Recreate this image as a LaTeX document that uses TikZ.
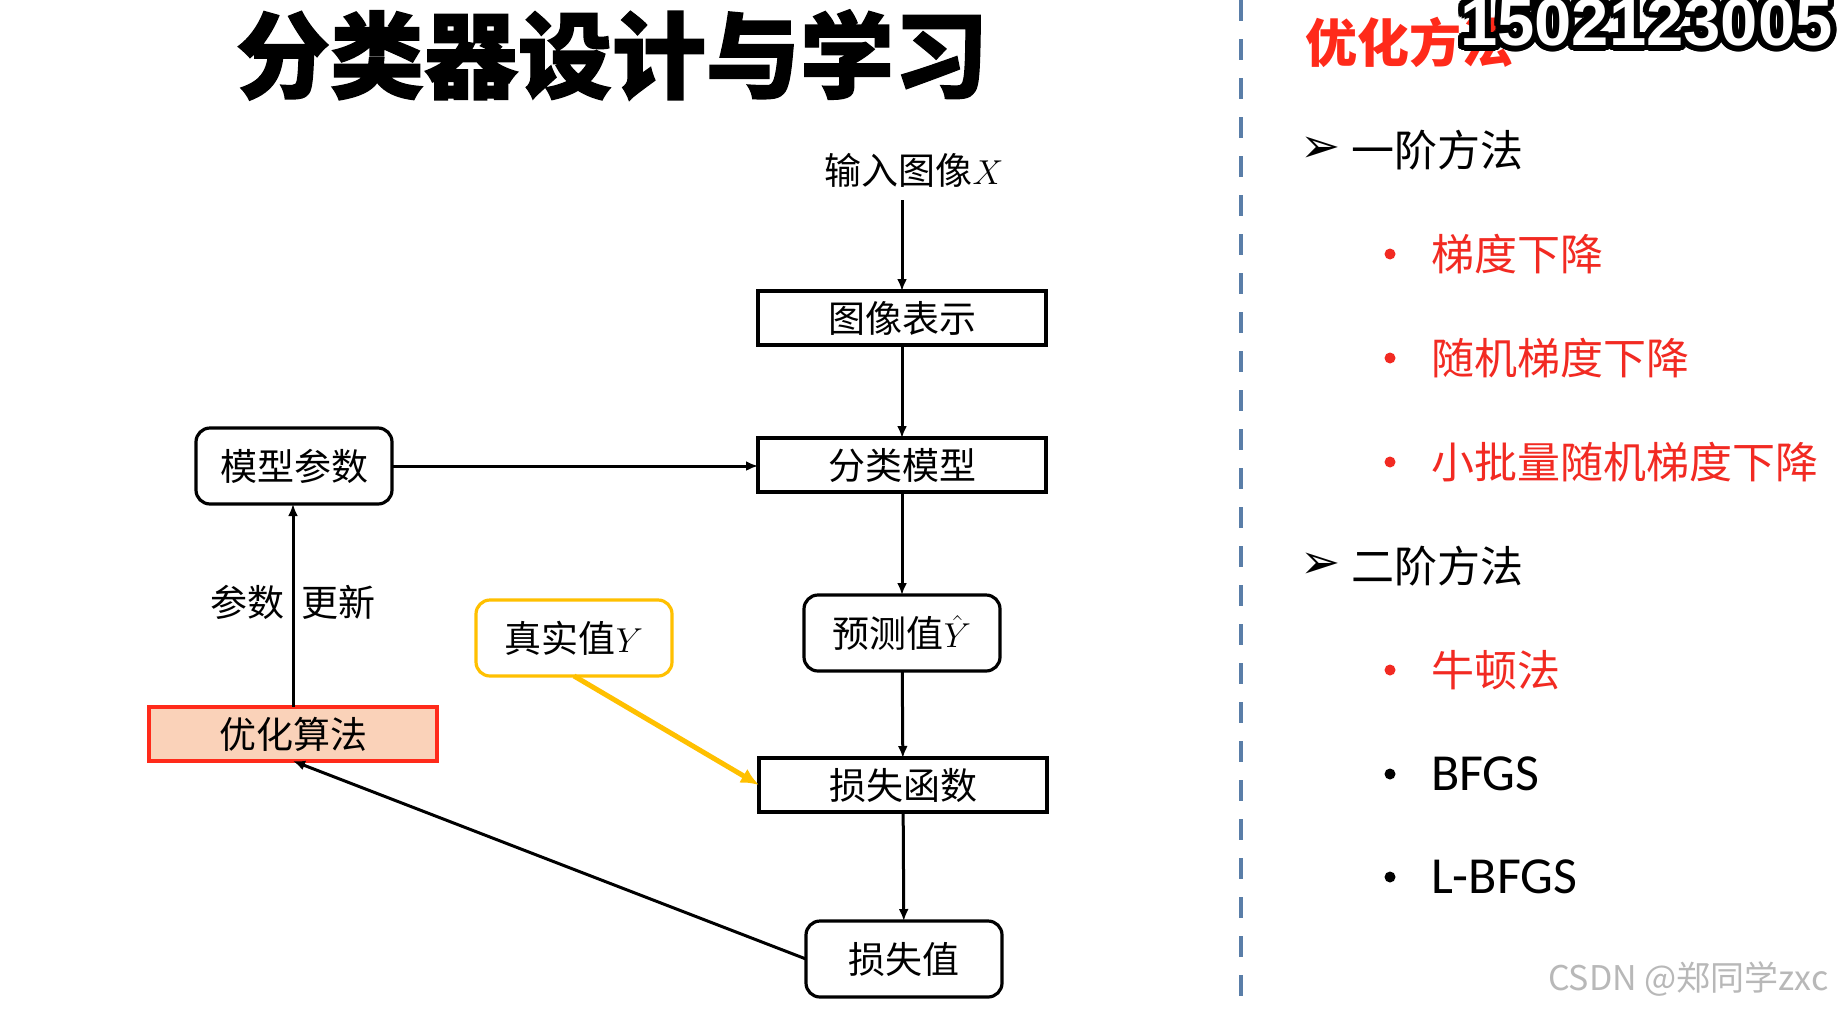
\documentclass[tikz,border=0pt]{standalone}
\usepackage{fontspec}
\setmainfont{Noto Sans CJK SC}
\newfontfamily\cjk{Noto Sans CJK SC}
\newfontfamily\titlefont[FakeBold=1.5]{Noto Sans CJK SC}
\newfontfamily\latinsans{Carlito}
\newfontfamily\digitfont{Liberation Sans}
\newfontfamily\symfont{DejaVu Sans}
\usetikzlibrary{arrows.meta}
\definecolor{optred}{HTML}{FF2A1A}
\definecolor{peach}{HTML}{FAD2B9}
\definecolor{gold}{HTML}{FFC000}
\definecolor{dashblue}{HTML}{5A7EA8}
\definecolor{itemred}{HTML}{F22A22}
\tikzset{
  every node/.style={inner sep=0pt, outer sep=0pt},
  lbl/.style={font=\fontsize{18.5}{20}\selectfont},
  sqbox/.style={draw, line width=1.6pt, minimum width=144pt, minimum height=27pt, lbl},
  rbox/.style={draw, line width=1.6pt, rounded corners=7pt, minimum width=98pt, minimum height=38pt, lbl},
  flow/.style={line width=1.5pt, -{Latex[length=6pt,width=5pt]}},
  itemtxt/.style={anchor=west, font=\fontsize{21.5}{24}\selectfont},
  dotred/.style={circle, fill=itemred, minimum size=5.5pt},
  dotblk/.style={circle, fill=black, minimum size=5.5pt},
  bul/.style={anchor=center, font=\fontsize{24}{26}\symfont},
}
\begin{document}
\begin{tikzpicture}[x=0.5pt, y=-0.5pt]
\useasboundingbox (0,0) rectangle (1839,1012);
\fill[white] (0,0) rectangle (1839,1012);

% title
\node[font=\fontsize{47}{50}\titlefont\bfseries] (title) at (612,55) {分类器设计与学习};

% flow diagram
\node[lbl] (inp) at (914,170) {输入图像$X$};
\node[sqbox] (rep) at (902,318) {图像表示};
\node[sqbox] (cls) at (902,465) {分类模型};
\node[rbox] (par) at (294,466) {模型参数};
\node[rbox] (pred) at (902,633) {预测值$\hat{Y}$};
\node[sqbox] (loss) at (903,785) {损失函数};
\node[rbox] (lv) at (904,959) {损失值};
\node[sqbox, draw=optred, fill=peach] (opt) at (293,734) {优化算法};
\node[rbox, draw=gold] (truth) at (574,638) {真实值$Y$};
\node[lbl] (upd1) at (247,602) {参数};
\node[lbl] (upd2) at (338,602) {更新};
\coordinate (inpstart) at (902,200);

\draw[flow] (inpstart) -- (rep.north);
\draw[flow] (rep) -- (cls);
\draw[flow] (par.east) -- (par.east -| cls.west);
\draw[flow] (cls) -- (pred);
\draw[flow] (pred) -- (loss);
\draw[flow] (loss) -- (lv);
\draw[flow] (lv.west) -- (opt.south);
\draw[flow] (opt.north) -- (opt.north |- par.south);
\draw[line width=2.5pt, draw=gold, -{Latex[length=9pt,width=8pt]}] (truth.south) -- (loss.west);

% divider
\draw[dashblue, line width=2pt, dash pattern=on 10.5pt off 9pt] (1241,0) -- (1241,1012);

% right panel
\node[anchor=west, text=optred, font=\fontsize{26}{28}\selectfont\bfseries] (head) at (1305,42) {优化方法};

\foreach \a in {0,15,...,345}{
  \node[anchor=west, font=\fontsize{33.5}{36}\digitfont\bfseries, text=black] at ([shift={(\a:6)}]1460,22) {1502123005};
}
\node[anchor=west, font=\fontsize{33.5}{36}\digitfont\bfseries, text=white] (wm) at (1460,22) {1502123005};

\node[bul] (a1) at (1321,150) {➢};
\node[itemtxt] (t1) at (1351,150) {一阶方法};
\node[dotred] (d1) at (1390,254) {};
\node[itemtxt, text=itemred] (t2) at (1431,254) {梯度下降};
\node[dotred] (d2) at (1390,358) {};
\node[itemtxt, text=itemred] (t3) at (1431,358) {随机梯度下降};
\node[dotred] (d3) at (1390,462) {};
\node[itemtxt, text=itemred] (t4) at (1431,462) {小批量随机梯度下降};
\node[bul] (a2) at (1321,566) {➢};
\node[itemtxt] (t5) at (1351,566) {二阶方法};
\node[dotred] (d4) at (1390,670) {};
\node[itemtxt, text=itemred] (t6) at (1431,670) {牛顿法};
\node[dotblk] (d5) at (1390,774) {};
\node[itemtxt, font=\fontsize{26}{28}\latinsans] (t7) at (1431,774) {BFGS};
\node[dotblk] (d6) at (1390,877) {};
\node[itemtxt, font=\fontsize{26}{28}\latinsans] (t8) at (1431,877) {L-BFGS};

\node[anchor=west, text=black!28, font=\fontsize{17}{20}\selectfont] (csdn) at (1548,979) {CSDN @郑同学zxc};
\end{tikzpicture}
\end{document}
